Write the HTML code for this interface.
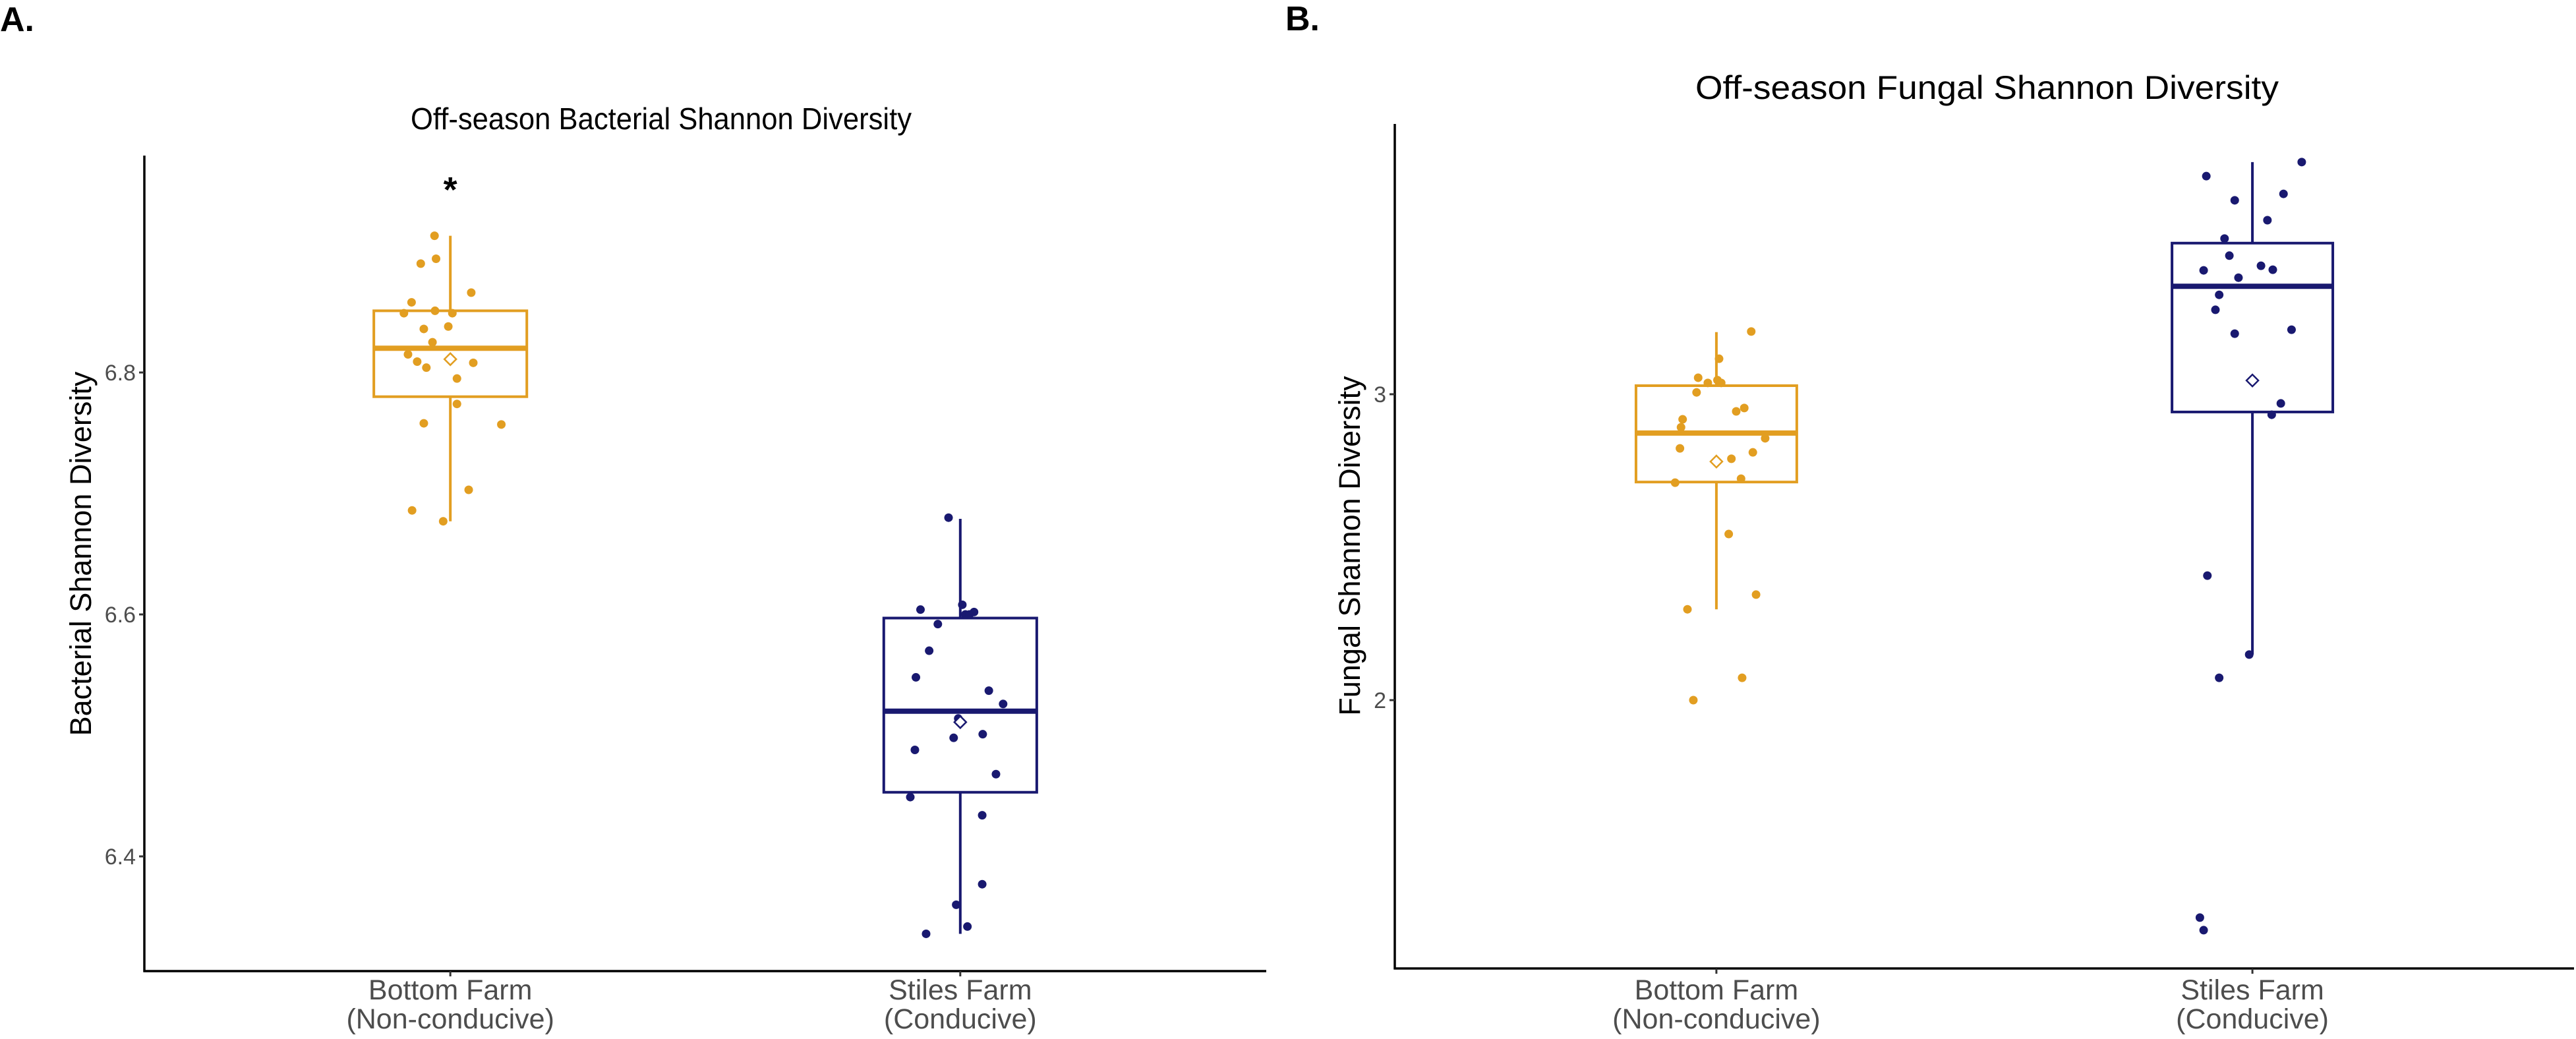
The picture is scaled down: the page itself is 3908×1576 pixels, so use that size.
<!DOCTYPE html>
<html><head><meta charset="utf-8"><style>
html,body{margin:0;padding:0;background:#fff;}
svg{display:block;font-family:"Liberation Sans",Arial,sans-serif;}
</style></head><body>
<svg id="fig" width="3908" height="1576" viewBox="0 0 3908 1576">
  <rect x="0" y="0" width="3908" height="1576" fill="#fff"/>
  <text x="0" y="47" font-size="52" font-weight="bold" fill="#000">A.</text>
  <text x="1950" y="46" font-size="52" font-weight="bold" fill="#000">B.</text>
  <g id="panelA"></g>
  <g id="panelB"></g>
</svg>
<script>
// ---- data ----
const categories = ["Bottom Farm|(Non-conducive)", "Stiles Farm|(Conducive)"];
const groupColors = ["#E29E21", "#191970"];

// Panel A: bacterial Shannon diversity
const bactTicks = [6.4, 6.6, 6.8];
const bactTickLabels = ["6.4", "6.6", "6.8"];
const bactBottom = [6.913,6.894,6.890,6.866,6.858,6.851,6.849,6.849,6.836,6.838,6.825,6.815,6.809,6.804,6.808,6.795,6.774,6.758,6.757,6.703,6.686,6.677];
const bactBottomJitter = [-0.031,-0.028,-0.058,0.041,-0.076,-0.030,-0.091,0.004,-0.052,-0.004,-0.035,-0.083,-0.065,-0.047,0.045,0.013,0.013,-0.052,0.100,0.036,-0.075,-0.014];
const bactStiles = [6.680,6.604,6.608,6.600,6.600,6.602,6.592,6.570,6.548,6.537,6.526,6.514,6.501,6.498,6.488,6.468,6.449,6.434,6.377,6.360,6.342,6.336];
const bactStilesJitter = [-0.023,-0.078,0.004,0.010,0.018,0.027,-0.044,-0.061,-0.087,0.056,0.084,-0.004,0.044,-0.013,-0.089,0.070,-0.098,0.043,0.043,-0.008,0.014,-0.067];
const bactQ1 = [6.780, 6.453];
const bactMedian = [6.820, 6.520];
const bactQ3 = [6.851, 6.597];
const bactMean = [6.811, 6.511];
const bactWhiskerLow = [6.677, 6.336];
const bactWhiskerHigh = [6.913, 6.679];

// Panel B: fungal Shannon diversity
const fungTicks = [2, 3];
const fungTickLabels = ["2", "3"];
const fungBottom = [3.205,3.116,3.054,3.037,3.046,3.037,3.006,2.955,2.944,2.918,2.892,2.856,2.823,2.810,2.789,2.724,2.711,2.543,2.345,2.297,2.073,2.000];
const fungBottomJitter = [0.065,0.005,-0.034,-0.016,0.002,0.009,-0.037,0.052,0.037,-0.063,-0.066,0.091,-0.068,0.068,0.028,0.046,-0.077,0.023,0.074,-0.054,0.048,-0.043];
const fungStiles = [3.759,3.713,3.655,3.634,3.569,3.509,3.453,3.420,3.407,3.405,3.381,3.325,3.276,3.211,3.198,2.970,2.933,2.407,2.149,2.073,1.289,1.248];
const fungStilesJitter = [0.092,-0.086,0.058,-0.033,0.028,-0.052,-0.043,0.016,0.038,-0.091,-0.026,-0.062,-0.069,0.073,-0.033,0.053,0.036,-0.084,-0.006,-0.062,-0.098,-0.091];
const fungQ1 = [2.713, 2.942];
const fungMedian = [2.873, 3.353];
const fungQ3 = [3.028, 3.494];
const fungMean = [2.780, 3.045];
const fungWhiskerLow = [2.297, 2.149];
const fungWhiskerHigh = [3.203, 3.759];

const NS = "http://www.w3.org/2000/svg";
function mk(parent, tag, attrs) {
  const e = document.createElementNS(NS, tag);
  for (const k in attrs) e.setAttribute(k, attrs[k]);
  parent.appendChild(e);
  return e;
}

function drawPanel(g, cfg) {
  const L = cfg.left, R = cfg.right, T = cfg.top, B = cfg.bottom;
  const yScale = v => cfg.py0 + (v - cfg.v0) * (cfg.py1 - cfg.py0) / (cfg.v1 - cfg.v0);
  const xScale = i => L + (i + 0.6) / 2.2 * (R - L);
  const spacing = xScale(1) - xScale(0);

  // title
  const title = mk(g, "text", {x: cfg.titleX, y: cfg.titleY, "font-size": cfg.titleSize, fill: "#000", textLength: cfg.titleLen, lengthAdjust: "spacingAndGlyphs"});
  title.textContent = cfg.title;
  
  

  // y axis title
  const yt = mk(g, "text", {x: 0, y: 0, "font-size": 45, fill: "#000", "text-anchor": "middle", transform: "translate(" + cfg.yTitleX + "," + cfg.yTitleY + ") rotate(-90)"});
  yt.textContent = cfg.yTitle;
  
  

  // axes
  const ya = mk(g, "line", {x1: L, y1: T, x2: L, y2: B + 1.5, stroke: "#000", "stroke-width": 3.5});
  
  
  const xa = mk(g, "line", {x1: L - 1.5, y1: B, x2: R, y2: B, stroke: "#000", "stroke-width": 3.5});
  
  

  // y ticks
  cfg.ticks.forEach((t, i) => {
    const y = yScale(t);
    const tk = mk(g, "line", {x1: L - 8, y1: y, x2: L, y2: y, stroke: "#333", "stroke-width": 3});
    
    
    const lb = mk(g, "text", {x: L - 13, y: y + 12, "font-size": 34, fill: "#4d4d4d", "text-anchor": "end"});
    lb.textContent = cfg.tickLabels[i];
    
    
  });

  // x ticks and labels
  categories.forEach((c, i) => {
    const x = xScale(i);
    const tk = mk(g, "line", {x1: x, y1: B, x2: x, y2: B + 8, stroke: "#333", "stroke-width": 3});
    
    
    const parts = c.split("|");
    const lb = mk(g, "text", {x: x, y: 1516, "font-size": 43, fill: "#4d4d4d", "text-anchor": "middle"});
    
    
    const s1 = mk(lb, "tspan", {x: x, y: 1516});
    s1.textContent = parts[0];
    const s2 = mk(lb, "tspan", {x: x, y: 1560});
    s2.textContent = parts[1];
  });

  // boxes
  for (let i = 0; i < 2; i++) {
    const col = groupColors[i];
    const cx = xScale(i);
    const hw = 0.15 * spacing;
    const bg = mk(g, "g", {});
    
    
    const wh = mk(bg, "line", {x1: cx, y1: yScale(cfg.q3[i]), x2: cx, y2: yScale(cfg.wHigh[i]), stroke: col, "stroke-width": 4});
    
    
    const wl = mk(bg, "line", {x1: cx, y1: yScale(cfg.q1[i]), x2: cx, y2: yScale(cfg.wLow[i]), stroke: col, "stroke-width": 4});
    
    
    const rc = mk(bg, "rect", {x: cx - hw, y: yScale(cfg.q3[i]), width: 2 * hw, height: yScale(cfg.q1[i]) - yScale(cfg.q3[i]), fill: "none", stroke: col, "stroke-width": 4});
    
    
    const md = mk(bg, "line", {x1: cx - hw, y1: yScale(cfg.median[i]), x2: cx + hw, y2: yScale(cfg.median[i]), stroke: col, "stroke-width": 8});
    
    
  }

  // points
  cfg.points.forEach((vals, i) => {
    const col = groupColors[i];
    const jit = cfg.jitter[i];
    vals.forEach((v, k) => {
      const p = mk(g, "circle", {cx: xScale(i) + jit[k] * spacing, cy: yScale(v), r: 6.5, fill: col});
      
      
    });
  });

  // means
  for (let i = 0; i < 2; i++) {
    const cx = xScale(i), cy = yScale(cfg.mean[i]), s = 9;
    const d = mk(g, "polygon", {points: cx + "," + (cy - s) + " " + (cx + s) + "," + cy + " " + cx + "," + (cy + s) + " " + (cx - s) + "," + cy, fill: "#fff", stroke: groupColors[i], "stroke-width": 2.5});
    
    
  }

  if (cfg.star) {
    const st = mk(g, "text", {x: xScale(0), y: 306, "font-size": 54, "font-weight": "bold", "text-anchor": "middle", fill: "#000"});
    st.textContent = "*";
    
    
  }
}

drawPanel(document.getElementById("panelA"), {
  left: 219, right: 1921, top: 236, bottom: 1473,
  v0: 6.4, v1: 6.8, py0: 1299, py1: 565,
  ticks: bactTicks, tickLabels: bactTickLabels,
  points: [bactBottom, bactStiles], jitter: [bactBottomJitter, bactStilesJitter],
  q1: bactQ1, median: bactMedian, q3: bactQ3, mean: bactMean, wLow: bactWhiskerLow, wHigh: bactWhiskerHigh,
  title: "Off-season Bacterial Shannon Diversity", titleX: 623, titleY: 196, titleSize: 46, titleLen: 760,
  yTitle: "Bacterial Shannon Diversity", yTitleX: 138, yTitleY: 840, star: true
});

drawPanel(document.getElementById("panelB"), {
  left: 2116, right: 3905, top: 188, bottom: 1469,
  v0: 2, v1: 3, py0: 1062, py1: 598,
  ticks: fungTicks, tickLabels: fungTickLabels,
  points: [fungBottom, fungStiles], jitter: [fungBottomJitter, fungStilesJitter],
  q1: fungQ1, median: fungMedian, q3: fungQ3, mean: fungMean, wLow: fungWhiskerLow, wHigh: fungWhiskerHigh,
  title: "Off-season Fungal Shannon Diversity", titleX: 2572, titleY: 150, titleSize: 50, titleLen: 885,
  yTitle: "Fungal Shannon Diversity", yTitleX: 2063, yTitleY: 828, star: false
});
</script>
</body></html>
